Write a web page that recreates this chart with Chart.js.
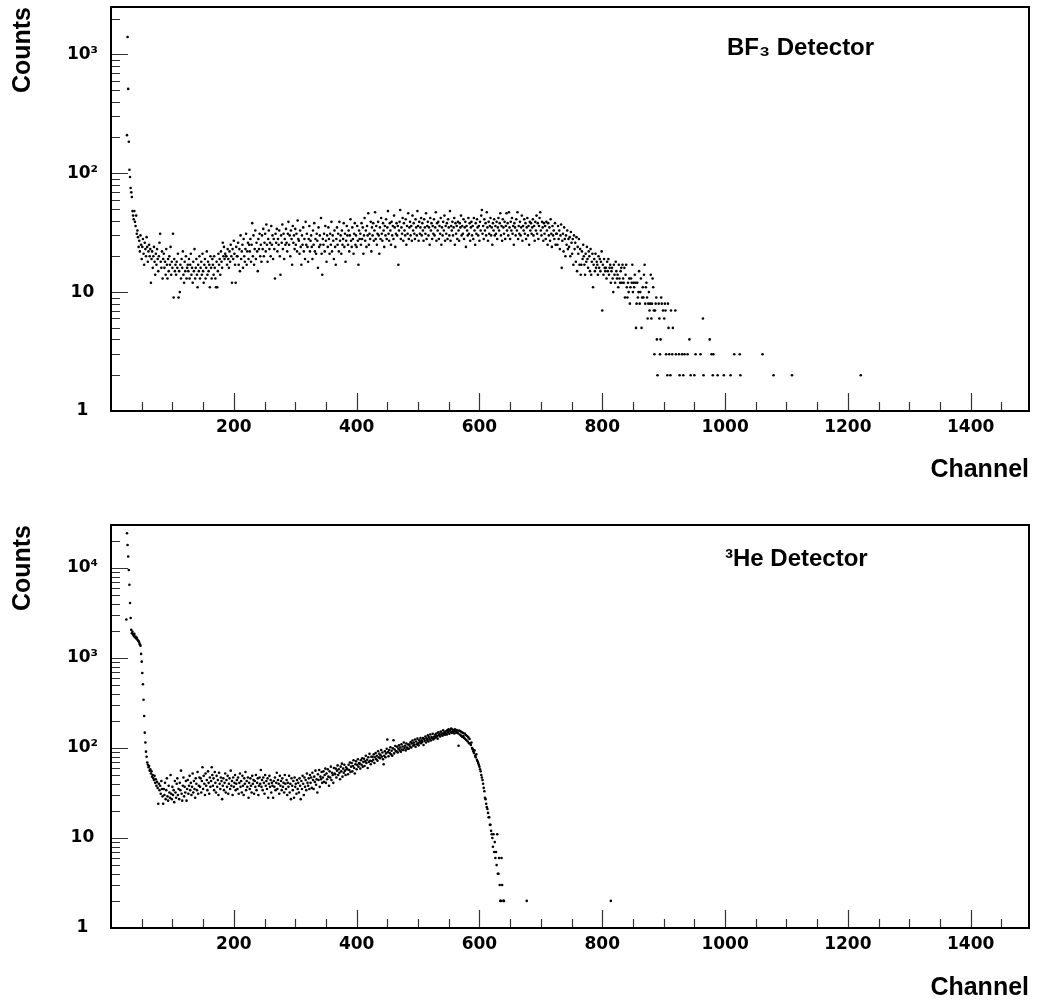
<!DOCTYPE html>
<html>
<head>
<meta charset="utf-8">
<script src="https://cdn.jsdelivr.net/npm/chart.js@4.4.1/dist/chart.umd.min.js"></script>
<style>
  html, body { margin: 0; padding: 0; background: #fff; }
  .panel { position: absolute; left: 0; width: 1038px; }
  #topPanel { top: 0; height: 500px; }
  #botPanel { top: 500px; height: 503px; }
</style>
</head>
<body>
<div class="panel" id="topPanel"><canvas id="bfChart"></canvas></div>
<div class="panel" id="botPanel"><canvas id="heChart"></canvas></div>
<script>
// BF3 spectrum: counts per channel starting at bfFirstChannel
const bfFirstChannel = 26;
const bfCounts = [
  209, 1400, 512, 184, 107, 93, 75, 69, 63, 48, 44, 41, 48, 39, 36, 44, 31, 33, 29, 24,
  27, 22, 30, 25, 19, 24, 28, 21, 17, 26, 23, 20, 29, 24, 18, 22, 25, 20, 23, 12,
  19, 22, 16, 20, 24, 18, 14, 21, 17, 23, 19, 15, 20, 26, 31, 18, 16, 22, 13, 19,
  21, 16, 18, 14, 23, 17, 13, 19, 15, 20, 17, 24, 14, 18, 16, 31, 9, 19, 15, 17,
  14, 18, 16, 21, 9, 15, 10, 17, 13, 19, 16, 22, 14, 12, 18, 15, 20, 13, 16, 17,
  15, 19, 13, 17, 21, 14, 16, 12, 18, 15, 23, 13, 16, 19, 14, 11, 17, 15, 20, 13,
  16, 18, 14, 21, 15, 12, 17, 19, 13, 16, 22, 14, 18, 15, 17, 11, 20, 16, 13, 19,
  17, 14, 20, 16, 13, 11, 18, 11, 15, 21, 17, 19, 14, 22, 18, 16, 26, 20, 24, 19,
  21, 20, 20, 17, 23, 19, 16, 22, 18, 25, 20, 12, 23, 19, 27, 21, 17, 12, 24, 20,
  20, 26, 17, 23, 15, 30, 19, 22, 25, 16, 28, 20, 18, 23, 31, 17, 22, 26, 19, 25,
  22, 28, 18, 25, 38, 20, 30, 17, 23, 33, 19, 26, 22, 15, 28, 23, 31, 20, 25, 18,
  30, 23, 34, 20, 26, 31, 22, 37, 25, 18, 28, 33, 23, 26, 20, 36, 25, 30, 19, 28,
  23, 13, 31, 26, 34, 22, 28, 25, 33, 20, 14, 30, 26, 37, 23, 31, 19, 28, 25, 34,
  26, 22, 31, 39, 25, 30, 20, 33, 28, 17, 36, 26, 30, 23, 34, 25, 31, 22, 40, 28,
  27, 21, 33, 24, 17, 30, 25, 35, 22, 28, 19, 39, 25, 31, 24, 18, 28, 36, 22, 27,
  30, 24, 19, 33, 25, 38, 22, 28, 21, 31, 27, 16, 35, 24, 30, 25, 42, 21, 14, 28,
  25, 31, 22, 36, 27, 18, 30, 24, 35, 28, 21, 31, 25, 39, 22, 30, 27, 19, 33, 24,
  17, 28, 35, 25, 31, 22, 39, 27, 30, 21, 33, 25, 28, 38, 24, 31, 18, 27, 36, 30,
  25, 33, 22, 30, 41, 27, 24, 35, 28, 21, 31, 38, 25, 30, 24, 36, 27, 17, 33, 28,
  31, 25, 38, 28, 35, 21, 30, 42, 27, 33, 24, 36, 30, 46, 25, 31, 28, 39, 22, 35,
  30, 38, 27, 33, 47, 28, 36, 25, 31, 39, 30, 21, 35, 28, 42, 31, 27, 38, 33, 24,
  36, 30, 41, 28, 35, 48, 31, 27, 38, 33, 25, 39, 30, 36, 28, 44, 35, 24, 31, 38,
  30, 36, 17, 33, 39, 49, 28, 35, 31, 42, 27, 38, 33, 30, 41, 25, 36, 31, 46, 28,
  35, 39, 30, 36, 27, 44, 33, 38, 31, 28, 41, 35, 30, 48, 36, 27, 39, 31, 35, 42,
  30, 38, 33, 27, 41, 35, 31, 46, 28, 36, 39, 30, 35, 25, 42, 33, 38, 28, 36, 31,
  41, 30, 35, 47, 27, 38, 33, 39, 28, 36, 31, 42, 25, 35, 30, 39, 33, 44, 27, 36,
  31, 38, 28, 41, 35, 30, 48, 27, 36, 33, 39, 30, 35, 42, 25, 38, 31, 36, 28, 39,
  33, 27, 38, 35, 44, 30, 36, 31, 41, 28, 35, 39, 24, 36, 33, 30, 42, 31, 38, 27,
  35, 39, 30, 36, 28, 42, 33, 25, 38, 31, 41, 35, 30, 36, 27, 39, 33, 44, 49, 31,
  36, 28, 41, 33, 38, 30, 47, 35, 27, 39, 31, 36, 42, 30, 35, 25, 38, 33, 41, 30,
  36, 31, 39, 28, 35, 42, 33, 38, 46, 30, 36, 27, 41, 35, 31, 39, 28, 36, 46, 33,
  38, 30, 47, 35, 28, 39, 33, 42, 31, 36, 25, 38, 35, 30, 41, 33, 47, 28, 36, 31,
  39, 30, 35, 44, 27, 36, 33, 41, 31, 38, 28, 35, 42, 30, 36, 25, 39, 33, 38, 31,
  35, 41, 30, 36, 27, 39, 33, 44, 31, 38, 28, 36, 42, 47, 33, 30, 39, 35, 27, 38,
  31, 36, 28, 39, 33, 25, 38, 30, 35, 27, 41, 31, 24, 36, 30, 33, 28, 38, 25, 31,
  31, 25, 36, 28, 33, 23, 30, 37, 16, 27, 31, 22, 35, 28, 20, 30, 25, 33, 23, 28,
  24, 29, 20, 32, 26, 21, 28, 17, 30, 23, 26, 18, 29, 15, 24, 21, 28, 17, 23, 14,
  17, 22, 19, 25, 20, 17, 14, 21, 18, 24, 19, 16, 22, 20, 15, 23, 14, 18, 21, 11,
  17, 19, 15, 21, 16, 18, 17, 14, 20, 16, 19, 15, 18, 22, 7, 17, 14, 19, 16, 15,
  16, 13, 18, 15, 19, 14, 16, 17, 12, 15, 16, 13, 10, 17, 14, 12, 18, 15, 13, 14,
  11, 17, 13, 12, 15, 16, 12, 17, 13, 12, 16, 9, 14, 17, 11, 9, 12, 10, 13, 8,
  11, 13, 12, 17, 10, 12, 11, 14, 12, 5, 8, 12, 9, 10, 15, 8, 10, 13, 5, 9,
  11, 9, 14, 17, 8, 11, 12, 9, 6, 8, 10, 7, 8, 14, 6, 8, 13, 11, 7, 3
];
// BF3 sparse tail (channels with a visible count)
const bfTailChannels = [886, 887, 888, 889, 890, 892, 893, 894, 895, 896, 897, 899, 901, 902, 903, 904,
  906, 907, 908, 909, 911, 912, 914, 915, 919, 920, 925, 926, 930, 932, 934, 939, 942, 944, 950, 952,
  960, 964, 965, 975, 978, 980, 981, 988, 998, 1009, 1015, 1024, 1025, 1061, 1079, 1109, 1221];
const bfTailCounts = [7, 8, 9, 4, 2, 8, 6, 3, 4, 9, 8, 7, 6, 8, 7, 3,
  2, 8, 5, 3, 2, 7, 3, 5, 7, 3, 3, 2, 3, 2, 3, 3, 4, 2, 2, 3,
  3, 6, 2, 4, 3, 2, 3, 2, 2, 2, 3, 3, 2, 3, 2, 2, 2];

// 3He spectrum: counts per channel starting at heFirstChannel
const heFirstChannel = 25;
const heCounts = [
  2670, 24300, 18000, 13400, 9500, 6500, 4080, 2780, 2050, 1880, 1950, 1820, 1760, 1850, 1700, 1730, 1650, 1680, 1600, 1560,
  1530, 1480, 1420, 1370, 1110, 910, 680, 510, 344, 227, 148, 115, 91, 80, 69, 65, 61, 63, 56, 58,
  52, 55, 48, 50, 46, 44, 49, 41, 45, 38, 42, 36, 24, 40, 34, 38, 31, 43, 35, 29,
  24, 35, 30, 41, 27, 34, 46, 29, 26, 38, 32, 28, 50, 31, 27, 37, 30, 34, 25, 43,
  32, 28, 40, 46, 30, 35, 27, 41, 34, 56, 31, 26, 38, 47, 29, 37, 32, 43, 26, 35,
  44, 31, 38, 49, 34, 41, 30, 37, 52, 32, 43, 35, 28, 46, 40, 34, 54, 31, 38, 47,
  37, 46, 32, 43, 61, 35, 49, 40, 30, 52, 38, 44, 34, 55, 41, 31, 47, 37, 43, 61,
  50, 38, 46, 34, 54, 41, 32, 49, 37, 44, 30, 53, 40, 35, 47, 43, 27, 38, 46, 34,
  41, 52, 32, 44, 37, 49, 31, 40, 46, 35, 56, 38, 43, 30, 47, 37, 41, 50, 34, 40,
  44, 35, 47, 31, 41, 52, 37, 43, 32, 49, 38, 30, 46, 40, 54, 34, 43, 37, 47, 28,
  41, 35, 46, 38, 32, 49, 40, 44, 31, 43, 37, 50, 34, 41, 46, 30, 38, 47, 40, 57,
  37, 44, 34, 47, 41, 31, 50, 38, 43, 35, 46, 28, 40, 49, 37, 44, 32, 41, 38, 28,
  43, 37, 47, 34, 41, 53, 35, 44, 40, 31, 49, 38, 43, 34, 46, 37, 41, 32, 50, 40,
  35, 44, 30, 41, 37, 49, 32, 40, 27, 46, 38, 34, 43, 28, 47, 37, 40, 31, 44, 35,
  41, 32, 46, 38, 27, 43, 35, 49, 40, 30, 47, 37, 44, 34, 52, 41, 38, 46, 35, 50,
  41, 47, 36, 53, 44, 35, 48, 42, 56, 39, 45, 32, 51, 44, 57, 37, 48, 45, 54, 41,
  47, 55, 42, 50, 59, 41, 52, 45, 58, 48, 38, 55, 47, 62, 44, 53, 50, 41, 60, 52,
  51, 59, 47, 56, 64, 50, 58, 53, 45, 62, 55, 67, 48, 59, 53, 65, 56, 50, 61, 58,
  58, 51, 65, 57, 69, 54, 62, 68, 55, 63, 73, 60, 52, 66, 71, 58, 65, 75, 62, 68,
  67, 59, 73, 65, 77, 62, 70, 76, 63, 71, 82, 68, 74, 60, 79, 70, 86, 72, 66, 80,
  71, 80, 74, 85, 68, 79, 88, 75, 82, 72, 92, 79, 86, 77, 83, 95, 80, 89, 75, 66,
  82, 92, 79, 87, 98, 124, 90, 81, 95, 88, 102, 85, 93, 82, 99, 122, 87, 96, 105, 92,
  92, 103, 89, 98, 107, 94, 101, 91, 110, 96, 104, 95, 115, 100, 106, 94, 112, 101, 98, 109,
  98, 109, 104, 116, 101, 112, 121, 106, 115, 109, 124, 103, 118, 110, 127, 113, 107, 122, 116, 129,
  113, 122, 117, 129, 108, 126, 120, 134, 115, 128, 123, 138, 118, 131, 125, 141, 121, 132, 128, 144,
  124, 133, 128, 140, 131, 145, 136, 127, 149, 139, 143, 134, 152, 140, 146, 137, 157, 143, 149, 140,
  146, 154, 141, 158, 149, 161, 144, 156, 151, 164, 147, 160, 150, 156, 145, 161, 153, 148, 158, 151,
  146, 106, 156, 141, 153, 137, 150, 133, 147, 136, 129, 145, 126, 139, 122, 136, 118, 131, 113, 126,
  112, 108, 115, 100, 97, 92, 88, 94, 82, 79, 85, 74, 71, 68, 65, 62, 58, 55, 50, 47,
  44, 40, 36, 33, 28, 27, 24, 22, 21, 19, 17, 17, 14, 14, 12, 11, 10, 8, 11, 7,
  9, 6, 7, 5, 11, 4, 4, 6, 3, 2, 2, 6, 3, null, 2, 2
];
const heTailChannels = [677, 814];
const heTailCounts = [2, 2];

// axis labels
const xLabelValues = [200, 400, 600, 800, 1000, 1200, 1400];
const yDecadeLabels = { 1: '1', 10: '10', 100: '10²', 1000: '10³', 10000: '10⁴' };

Chart.defaults.font.family = "'DejaVu Sans', sans-serif";
Chart.defaults.color = '#000';

function toPoints(first, counts, tailCh, tailCounts) {
  const pts = [];
  counts.forEach((c, i) => { if (c != null) pts.push({ x: first + i, y: c }); });
  tailCh.forEach((ch, i) => pts.push({ x: ch, y: tailCounts[i] }));
  return pts;
}

// tick positions: every 50 channels on x, 1..9 per decade on y
function xTickValues() {
  const v = [];
  for (let c = 50; c < 1495; c += 50) v.push(c);
  return v;
}
function yTickValues(yMax) {
  const v = [];
  for (let d = 1; d < yMax; d *= 10) {
    for (let m = 1; m < 10; m++) {
      if (d * m < yMax * 0.98) v.push(d * m);
    }
  }
  return v;
}

// inward tick marks, frame and the detector caption
const frameMarks = {
  id: 'frameMarks',
  afterDatasetsDraw(chart, args, opts) {
    const { ctx, chartArea: a, scales: { x, y } } = chart;
    ctx.save();
    ctx.strokeStyle = '#333';
    ctx.lineWidth = 1.2;
    ctx.beginPath();
    xTickValues().forEach(v => {
      const px = Math.round(x.getPixelForValue(v)) + 0.5;
      const len = xLabelValues.includes(v) ? 18 : 9;
      ctx.moveTo(px, a.bottom);
      ctx.lineTo(px, a.bottom - len);
    });
    yTickValues(y.max).forEach(v => {
      const py = Math.round(y.getPixelForValue(v)) + 0.5;
      const len = yDecadeLabels[v] ? 17 : 9;
      ctx.moveTo(a.left, py);
      ctx.lineTo(a.left + len, py);
    });
    ctx.stroke();
    ctx.strokeStyle = '#000';
    ctx.lineWidth = 2;
    ctx.strokeRect(a.left, a.top, a.right - a.left, a.bottom - a.top);
    ctx.fillStyle = '#000';
    ctx.font = opts.font;
    ctx.textBaseline = 'alphabetic';
    ctx.fillText(opts.text, opts.x, opts.y);
    ctx.restore();
  }
};

function makePanel(canvasId, points, yMax, padTop, xAxisHeight, xTitlePad, label) {
  return new Chart(document.getElementById(canvasId), {
    type: 'scatter',
    data: {
      datasets: [{
        data: points,
        backgroundColor: '#000',
        borderColor: '#000',
        pointRadius: 1.3,
        pointBorderWidth: 0,
        pointHoverRadius: 1.3
      }]
    },
    options: {
      responsive: true,
      maintainAspectRatio: false,
      animation: false,
      events: [],
      layout: { padding: { top: padTop, right: 9, left: 0, bottom: 0 } },
      plugins: {
        legend: { display: false },
        tooltip: { enabled: false },
        frameMarks: label
      },
      scales: {
        x: {
          type: 'linear',
          min: 0,
          max: 1495,
          grid: { display: false, drawTicks: false },
          border: { display: false },
          afterBuildTicks: scale => {
            scale.ticks = xTickValues().map(v => ({ value: v }));
          },
          afterFit: scale => {
            scale.height = xAxisHeight;
            scale.paddingLeft = 0;
            scale.paddingRight = 0;
          },
          ticks: {
            autoSkip: false,
            maxRotation: 0,
            minRotation: 0,
            padding: 6,
            font: { size: 17, weight: 'bold' },
            callback: v => xLabelValues.includes(v) ? String(v) : null
          },
          title: {
            display: true,
            text: 'Channel',
            align: 'end',
            font: { family: "'Liberation Sans', sans-serif", size: 25, weight: 'bold' },
            padding: { top: 0, bottom: xTitlePad }
          }
        },
        y: {
          type: 'logarithmic',
          min: 1,
          max: yMax,
          grid: { display: false, drawTicks: false },
          border: { display: false },
          afterBuildTicks: scale => {
            scale.ticks = yTickValues(yMax).map(v => ({ value: v }));
          },
          afterFit: scale => {
            scale.width = 111;
            scale.paddingTop = 0;
            scale.paddingBottom = 0;
          },
          ticks: {
            autoSkip: false,
            crossAlign: 'center',
            padding: 13,
            font: { size: 17, weight: 'bold' },
            callback: v => yDecadeLabels[v] ?? null
          },
          title: {
            display: true,
            text: 'Counts',
            align: 'end',
            font: { family: "'Liberation Sans', sans-serif", size: 25, weight: 'bold' },
            padding: { top: 8, bottom: 0 }
          }
        }
      }
    },
    plugins: [frameMarks]
  });
}

makePanel('bfChart', toPoints(bfFirstChannel, bfCounts, bfTailChannels, bfTailCounts), 2500, 7, 89, 15,
  { text: 'BF₃ Detector', x: 727, y: 55, font: "bold 24px 'Liberation Sans', sans-serif" });
makePanel('heChart', toPoints(heFirstChannel, heCounts, heTailChannels, heTailCounts), 30000, 25, 75, 0,
  { text: '³He Detector', x: 725, y: 66, font: "bold 24px 'Liberation Sans', sans-serif" });
</script>
</body>
</html>
